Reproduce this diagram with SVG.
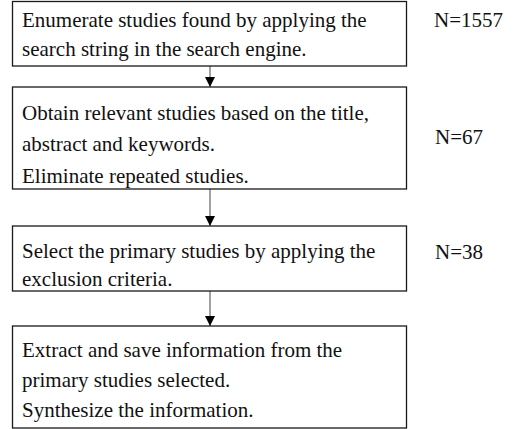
<svg xmlns="http://www.w3.org/2000/svg" width="513" height="429" viewBox="0 0 513 429">
<style>
.box{fill:#fff;stroke:#1a1a1a;stroke-width:1.3}
.t{font-family:"Liberation Serif","Times New Roman",serif;font-size:21px;fill:#111}
.c{stroke:#444;stroke-width:1;fill:none}
</style>
<defs>
<marker id="ah" markerWidth="12" markerHeight="12" refX="10" refY="5" orient="auto" markerUnits="userSpaceOnUse">
<path d="M0,0 L10,5 L0,10 Z" fill="#000"/>
</marker>
</defs>
<rect width="513" height="429" fill="#fff"/>
<g id="connectors">
<line class="c" x1="210" y1="66" x2="210" y2="87" marker-end="url(#ah)"/>
<line class="c" x1="210" y1="189" x2="210" y2="226" marker-end="url(#ah)"/>
<line class="c" x1="210" y1="291" x2="210" y2="326" marker-end="url(#ah)"/>
</g>
<g id="n1">
<rect class="box" x="12.5" y="1.5" width="394" height="64.5"/>
<text class="t" x="22" y="27">Enumerate studies found by applying the</text>
<text class="t" x="22" y="56">search string in the search engine.</text>
</g>
<g id="n2">
<rect class="box" x="12.5" y="87" width="394" height="102"/>
<text class="t" x="22" y="120">Obtain relevant studies based on the title,</text>
<text class="t" x="22" y="151">abstract and keywords.</text>
<text class="t" x="22" y="183">Eliminate repeated studies.</text>
</g>
<g id="n3">
<rect class="box" x="12.5" y="226" width="394" height="65"/>
<text class="t" x="22" y="258">Select the primary studies by applying the</text>
<text class="t" x="22" y="286">exclusion criteria.</text>
</g>
<g id="n4">
<rect class="box" x="12.5" y="326" width="394" height="102"/>
<text class="t" x="22" y="357">Extract and save information from the</text>
<text class="t" x="22" y="387">primary studies selected.</text>
<text class="t" x="22" y="417">Synthesize the information.</text>
</g>
<g id="labels">
<text class="t" x="434" y="27">N=1557</text>
<text class="t" x="435" y="144">N=67</text>
<text class="t" x="435" y="259">N=38</text>
</g>
</svg>
